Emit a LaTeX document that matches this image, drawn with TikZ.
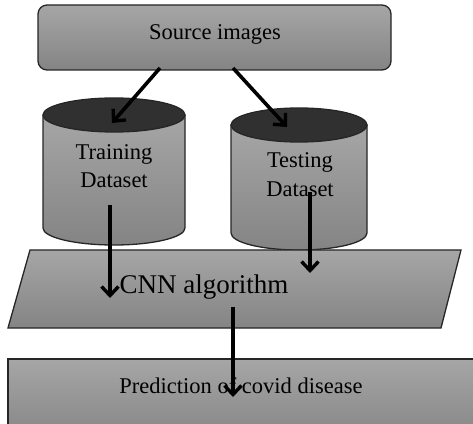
\documentclass[tikz,border=0pt]{standalone}
\usepackage{fontspec}
\setmainfont{Liberation Serif}
\usetikzlibrary{arrows.meta}
\definecolor{gtop}{HTML}{A6A6A6}
\definecolor{gbot}{HTML}{848484}
\definecolor{ctop}{HTML}{303030}
\begin{document}
\begin{tikzpicture}[x=1pt,y=1pt,
  arr/.style={line width=3.6pt, -{Straight Barb[length=9pt,width=17pt,line width=3.4pt]}},
  shapefill/.style={draw=black!85, line width=1.3pt, top color=gtop, bottom color=gbot},
  lbl/.style={anchor=base, inner sep=0pt, font=\fontsize{22.5}{27}\selectfont},
  lblbig/.style={anchor=base, inner sep=0pt, font=\fontsize{27}{32}\selectfont}]
\useasboundingbox (0,0) rectangle (473,423);
\clip (0,0) rectangle (473,423);

% Source images box
\node[shapefill, rounded corners=9pt, minimum width=353pt, minimum height=65pt, inner sep=0pt] (src) at (214.5,385.5) {};
\node[lbl] (srct) at (215,383) {Source images};

% Training cylinder
\path[shapefill] (43,308) -- (43,195) arc[start angle=180,end angle=360,x radius=71,y radius=17] -- (185,308) -- cycle;
\draw[line width=1.3pt, draw=black!85, fill=ctop] (114,308) ellipse[x radius=71,y radius=17];
\node[lbl] (train1) at (114,263) {Training};
\node[lbl] (train2) at (114,235) {Dataset};

% Testing cylinder
\path[shapefill] (231,298) -- (231,190) arc[start angle=180,end angle=360,x radius=68,y radius=17] -- (367,298) -- cycle;
\draw[line width=1.3pt, draw=black!85, fill=ctop] (299,298) ellipse[x radius=68,y radius=17];
\node[lbl] (test1) at (300,255) {Testing};
\node[lbl] (test2) at (300,226) {Dataset};

% CNN parallelogram
\path[shapefill] (30,173) -- (461,173) -- (441,95) -- (8,95) -- cycle;
\node[lblbig] (cnn) at (204,130) {CNN algorithm};

% Prediction box
\path[shapefill] (8,64) rectangle (490,-20);
\node[lbl] (pred) at (241,30) {Prediction of covid disease};

% arrow end points
\coordinate (s1) at (160,355);
\coordinate (t1) at (112,300);
\coordinate (s2) at (233,355);
\coordinate (t2) at (287,296);
\coordinate (s3) at (110,218);
\coordinate (t3) at (110,125);
\coordinate (s4) at (310,231);
\coordinate (t4) at (310,150);
\coordinate (s5) at (233,116);
\coordinate (t5) at (233,26);

\draw[arr] (s1) -- (t1);
\draw[arr] (s2) -- (t2);
\draw[arr] (s3) -- (t3);
\draw[arr] (s4) -- (t4);
\draw[arr] (s5) -- (t5);
\end{tikzpicture}
\end{document}
